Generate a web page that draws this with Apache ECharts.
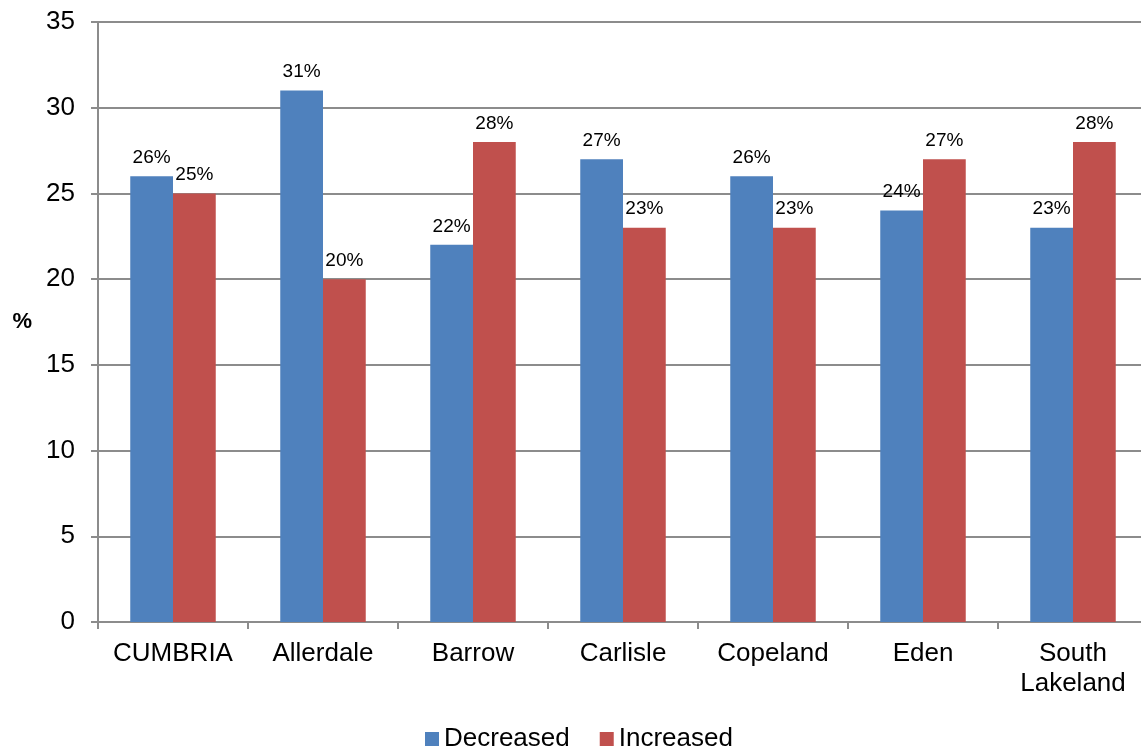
<!DOCTYPE html>
<html>
<head>
<meta charset="utf-8">
<script src="https://cdn.jsdelivr.net/npm/echarts@6/dist/echarts.min.js"></script>
<style>
  html, body { margin: 0; padding: 0; background: #fff; overflow: hidden; }
  /* plot runs slightly past the right edge of the window, as in the original */
  #chart { width: 1148px; height: 749px; }
</style>
</head>
<body>
<div id="chart"></div>
<script>
var districts = ['CUMBRIA', 'Allerdale', 'Barrow', 'Carlisle', 'Copeland', 'Eden', 'South\nLakeland'];
var decreased = [26, 31, 22, 27, 26, 24, 23];
var increased = [25, 20, 28, 23, 23, 27, 28];
var yTicks = [0, 5, 10, 15, 20, 25, 30, 35];

var chart = echarts.init(document.getElementById('chart'));

var labelStyle = {
  show: true,
  position: 'top',
  distance: 9,
  formatter: '{c}%',
  fontFamily: 'Liberation Sans, Arial',
  fontSize: 19,
  color: '#000'
};

chart.setOption({
  animation: false,
  textStyle: { fontFamily: 'Liberation Sans, Arial' },
  grid: { left: 98, top: 22, width: 1050, height: 600, containLabel: false },
  legend: {
    top: 726,
    left: 425,
    itemWidth: 14,
    itemHeight: 14,
    itemGap: 30,
    icon: 'rect',
    padding: 0,
    textStyle: { fontSize: 26, color: '#000' },
    data: ['Decreased', 'Increased']
  },
  xAxis: {
    type: 'category',
    data: districts,
    axisLine: { lineStyle: { color: '#8c8c8c', width: 2 } },
    axisTick: { show: true, interval: 0, length: 7, lineStyle: { color: '#8c8c8c', width: 2 } },
    axisLabel: { interval: 0, fontSize: 26, color: '#000', margin: 17, lineHeight: 30 }
  },
  yAxis: {
    type: 'value',
    min: yTicks[0],
    max: yTicks[yTicks.length - 1],
    interval: 5,
    name: '%',
    nameLocation: 'middle',
    nameRotate: 0,
    nameGap: 66,
    nameTextStyle: { fontSize: 22, fontWeight: 'bold', color: '#000', padding: [12, 0, 0, 0] },
    axisLine: { show: true, lineStyle: { color: '#8c8c8c', width: 2 } },
    axisTick: { show: true, length: 7, lineStyle: { color: '#8c8c8c', width: 2 } },
    axisLabel: { fontSize: 26, color: '#000', margin: 23 },
    splitLine: { lineStyle: { color: '#8c8c8c', width: 2 } }
  },
  series: [
    {
      name: 'Decreased',
      type: 'bar',
      data: decreased,
      barGap: '0%',
      barCategoryGap: '43%',
      itemStyle: { color: '#4F81BD' },
      label: labelStyle
    },
    {
      name: 'Increased',
      type: 'bar',
      data: increased,
      itemStyle: { color: '#C0504D' },
      label: labelStyle
    }
  ]
});
</script>
</body>
</html>
